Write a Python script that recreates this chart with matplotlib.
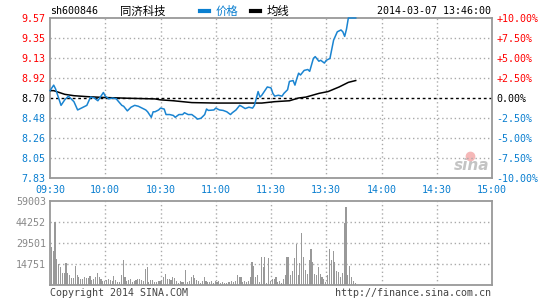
import numpy as np
import matplotlib
matplotlib.use("Agg")
import matplotlib.pyplot as plt
from matplotlib.lines import Line2D

plt.rcParams['font.family'] = ['DejaVu Sans Mono', 'Noto Sans CJK SC']

# 分时数据 (分钟数, 从 09:30 起算, 午休后接着算)
price_t = [0, 2, 3, 4, 6, 8, 10, 13, 15, 18,
           20, 22, 24, 26, 28, 29, 30, 32, 34, 36,
           39, 40, 42, 44, 46, 48, 50, 52, 53, 55,
           56, 57, 59, 60, 62, 63, 65, 67, 68, 70,
           72, 73, 75, 77, 79, 80, 82, 84, 85, 86,
           89, 90, 92, 94, 96, 98, 99, 101, 103, 104,
           106, 108, 110, 111, 113, 114, 115, 118, 120, 121,
           122, 124, 126, 127, 129, 130, 132, 133, 134, 135,
           136, 138, 140, 141, 143, 144, 146, 147, 149, 150,
           152, 154, 156, 158, 159, 160, 161, 162, 166]
price_v = [8.78, 8.84, 8.80, 8.74, 8.62, 8.68, 8.72, 8.66, 8.57, 8.60,
           8.62, 8.71, 8.70, 8.67, 8.73, 8.76, 8.72, 8.69, 8.70, 8.69,
           8.62, 8.61, 8.56, 8.60, 8.62, 8.61, 8.59, 8.57, 8.55, 8.49,
           8.55, 8.55, 8.57, 8.59, 8.58, 8.52, 8.52, 8.51, 8.49, 8.52,
           8.52, 8.54, 8.52, 8.52, 8.49, 8.47, 8.48, 8.52, 8.58, 8.565,
           8.57, 8.59, 8.57, 8.565, 8.55, 8.52, 8.54, 8.57, 8.62, 8.61,
           8.585, 8.60, 8.59, 8.62, 8.77, 8.71, 8.73, 8.82, 8.81, 8.75,
           8.72, 8.73, 8.72, 8.75, 8.79, 8.88, 8.89, 8.84, 8.91, 8.97,
           8.95, 9.00, 9.01, 8.99, 9.13, 9.15, 9.10, 9.11, 9.08, 9.11,
           9.13, 9.33, 9.42, 9.44, 9.42, 9.37, 9.45, 9.57, 9.57]

avg_t = [0, 2, 5, 8, 13, 20, 30, 43, 57, 60, 67, 77, 90, 115,
         122, 130, 135, 139, 146, 151, 157, 162, 166]
avg_v = [8.78, 8.78, 8.76, 8.74, 8.725, 8.715, 8.705, 8.697, 8.69, 8.68, 8.67, 8.65, 8.645, 8.645,
         8.66, 8.67, 8.70, 8.71, 8.75, 8.77, 8.82, 8.87, 8.89]

# 每分钟成交量
volume = [27000, 24100, 44000, 18250, 14700, 12900, 8700, 8700, 15700, 8200,
          7000, 5100, 5100, 13600, 6800, 5400, 4000, 4400, 5400, 4900,
          4900, 6300, 3300, 4000, 5400, 8200, 5400, 4000, 3000, 2600,
          3500, 4000, 3500, 3000, 6300, 3500, 2100, 2100, 6800, 17550,
          5400, 3000, 3500, 4000, 2300, 3000, 3500, 4400, 4400, 3500,
          3000, 11000, 12400, 2100, 3500, 3500, 2100, 2100,
          2800, 2800, 3500, 5400, 7700, 4400, 4000, 3500, 5400, 4700,
          2600, 1600, 2800, 2100, 2100, 10500, 2100, 2600, 5900, 6800,
          4700, 3500, 3000, 1600, 2800, 5400, 3000, 2300, 2100, 2800,
          1600, 3000, 2100, 2800, 1600, 2300, 1600, 1200, 1900, 2100,
          2800, 1900, 2600, 6800, 5400, 5400, 2300, 3000, 2300, 2800,
          5400, 16100, 13300, 5400, 7000, 2300,
          19400, 12400, 19400, 1200, 18700, 2800, 4000, 4000, 5400, 2300,
          3000, 1600, 4200, 6800, 19400, 19400, 6800, 9800, 18700, 28500,
          7000, 15200, 36300, 19400, 10500, 7700, 17500, 25000, 16100, 7700,
          7000, 12400, 7700, 5400, 4400, 2300, 6800, 25000, 17500, 23900,
          16100, 9800, 9100, 5400, 8700, 43800, 55000, 7000, 13300, 5400,
          3000, 1200]

pre_close = 8.70
price_ticks = ['9.57', '9.35', '9.13', '8.92', '8.70', '8.48', '8.26', '8.05', '7.83']
pct_ticks = ['+10.00%', '+7.50%', '+5.00%', '+2.50%', '0.00%', '-2.50%', '-5.00%', '-7.50%', '-10.00%']
time_ticks = ['09:30', '10:00', '10:30', '11:00', '11:30', '13:30', '14:00', '14:30', '15:00']
vol_ticks = [14751, 29501, 44252, 59003]

RED = '#ff0000'
BLUE = '#0a7fd0'
GRID = '#aaaaaa'
FRAME = '#999999'
FS = 7.2

fig = plt.figure(figsize=(5.45, 3.0), dpi=100)
ax = fig.add_axes([50/545, 1-178/300, 442/545, 160/300])
axv = fig.add_axes([50/545, 1-285/300, 442/545, 84/300])

tick_pos = [float(s) for s in price_ticks]
colors = [RED]*4 + ['black'] + [BLUE]*4

# 价格图
ax.plot(price_t, price_v, color='#1a84d1', lw=1.1, zorder=4, clip_on=False)
ax.plot(avg_t, avg_v, color='black', lw=1.1, zorder=3)
ax.axhline(pre_close, color='black', lw=1, ls=(0, (2, 2)), zorder=2)
ax.set_xlim(0, 240)
ax.set_ylim(7.83, 9.57)
ax.set_xticks(np.arange(0, 241, 30))
ax.set_xticklabels(time_ticks)
ax.set_yticks(tick_pos)
ax.set_yticklabels(price_ticks)
for lab, c in zip(ax.get_yticklabels(), colors):
    lab.set_color(c)
for p in tick_pos[1:-1]:
    if p != pre_close:
        ax.axhline(p, color=GRID, lw=1, ls=(0, (1, 2)), zorder=1)
for x in range(30, 240, 30):
    ax.axvline(x, color=GRID, lw=1, ls=(0, (1, 2)), zorder=1)
ax.tick_params(axis='both', length=0, labelsize=FS)
ax.tick_params(axis='y', pad=3)
ax.tick_params(axis='x', pad=5, labelcolor=BLUE)

ax2 = ax.twinx()
ax2.set_ylim(7.83, 9.57)
ax2.set_yticks(tick_pos)
ax2.set_yticklabels(pct_ticks)
for lab, c in zip(ax2.get_yticklabels(), colors):
    lab.set_color(c)
ax2.tick_params(axis='y', length=0, labelsize=FS, pad=3)
for s in ax2.spines.values():
    s.set_visible(False)

for a in (ax, axv):
    for s in a.spines.values():
        s.set_color(FRAME)
        s.set_linewidth(1.3)

# 新浪水印
ax.text(0.953, 0.08, 'sina', transform=ax.transAxes, ha='center', va='center',
        fontsize=11, fontstyle='italic', fontweight='bold', color='#c4c4c4',
        family='DejaVu Sans', zorder=0)
ax.plot([0.95], [0.14], 'o', transform=ax.transAxes, ms=6, color='#f5b8b8', zorder=0)

# 成交量
axv.bar(np.arange(len(volume)) + 0.7, volume, width=0.6, color='#999999', zorder=3)
axv.set_xlim(0, 240)
axv.set_ylim(0, 59003)
axv.set_xticks([])
axv.set_yticks(vol_ticks)
axv.set_yticklabels([str(v) for v in vol_ticks])
axv.tick_params(axis='y', length=0, labelsize=FS, pad=3, labelcolor='#888888')
for v in vol_ticks[:-1]:
    axv.axhline(v, color=GRID, lw=1, ls=(0, (1, 2)), zorder=1)
for x in range(30, 240, 30):
    axv.axvline(x, color=GRID, lw=1, ls=(0, (1, 2)), zorder=1)

# 顶部标题
fig.text(50/545, 1-11/300, 'sh600846', fontsize=FS, va='center', ha='left', color='black')
fig.text(120/545, 1-11/300, '同济科技', fontsize=8.2, va='center', ha='left', color='black',
         family='Noto Sans CJK SC')
fig.add_artist(Line2D([200/545, 209/545], [1-11/300]*2, color=BLUE, lw=3))
fig.text(216/545, 1-11/300, '价格', fontsize=8.2, va='center', ha='left', color=BLUE,
         family='Noto Sans CJK SC')
fig.add_artist(Line2D([251/545, 260/545], [1-11/300]*2, color='black', lw=3))
fig.text(267/545, 1-11/300, '均线', fontsize=8.2, va='center', ha='left', color='black',
         family='Noto Sans CJK SC')
fig.text(491/545, 1-11/300, '2014-03-07 13:46:00', fontsize=FS, va='center', ha='right', color='black')

fig.text(50/545, 1-293/300, 'Copyright 2014 SINA.COM', fontsize=FS, va='center', ha='left', color='#444444')
fig.text(491/545, 1-293/300, 'http://finance.sina.com.cn', fontsize=FS, va='center', ha='right', color='#444444')

fig.savefig('out.png', dpi=100)
